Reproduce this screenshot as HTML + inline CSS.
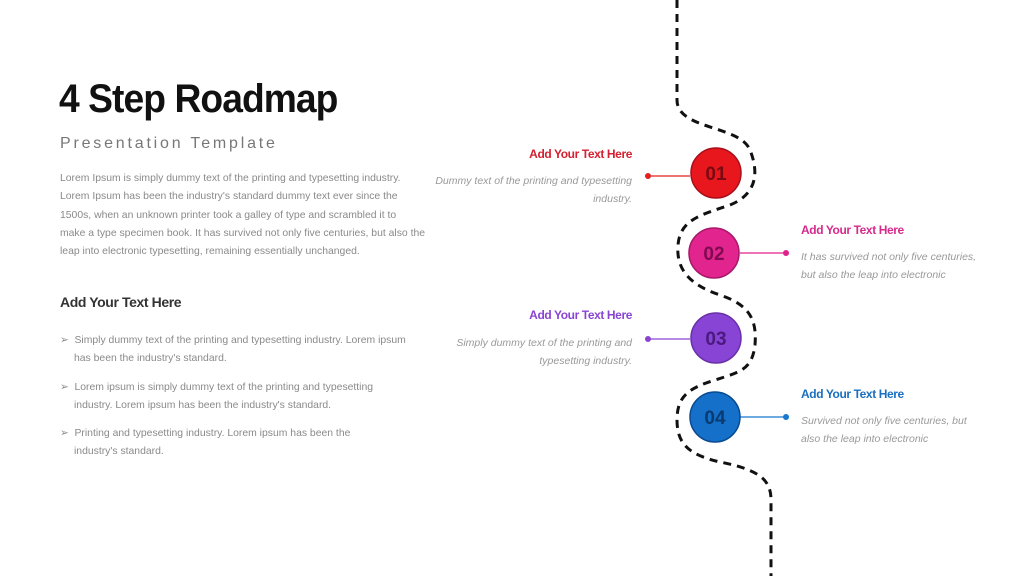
<!DOCTYPE html>
<html><head><meta charset="utf-8"><style>
*{margin:0;padding:0;box-sizing:border-box}
body{width:1024px;height:576px;background:#fff;position:relative;overflow:hidden;font-family:"Liberation Sans",sans-serif}
.a{position:absolute;white-space:nowrap}
.t{font-size:10.4px;color:#8a8a8a;line-height:18.3px}
.h{font-weight:bold;font-size:12px;letter-spacing:-0.4px}
.i{font-style:italic;font-size:10.5px;color:#999;line-height:18px}
.b{padding-left:14px;text-indent:-14px}
</style></head><body>
<div class="a" style="left:59px;top:77px;font-size:40px;font-weight:bold;letter-spacing:-1px;color:#111;transform:scaleX(0.93);transform-origin:left">4 Step Roadmap</div>
<div class="a" style="left:60px;top:135px;font-size:16px;letter-spacing:2.8px;color:#777">Presentation Template</div>
<div class="a t" style="left:60px;top:170px">Lorem Ipsum is simply dummy text of the printing and typesetting industry.<br>Lorem Ipsum has been the industry's standard dummy text ever since the<br>1500s, when an unknown printer took a galley of type and scrambled it to<br>make a type specimen book. It has survived not only five centuries, but also the<br>leap into electronic typesetting, remaining essentially unchanged.</div>
<div class="a" style="left:60px;top:294px;font-size:14px;font-weight:bold;color:#333;letter-spacing:-0.4px">Add Your Text Here</div>
<div class="a t b" style="left:60px;top:332px">➢&nbsp; Simply dummy text of the printing and typesetting industry. Lorem ipsum<br>has been the industry's standard.</div>
<div class="a t b" style="left:60px;top:379px">➢&nbsp; Lorem ipsum is simply dummy text of the printing and typesetting<br>industry. Lorem ipsum has been the industry's standard.</div>
<div class="a t b" style="left:60px;top:425px">➢&nbsp; Printing and typesetting industry. Lorem ipsum has been the<br>industry's standard.</div>

<svg class="a" style="left:0;top:0" width="1024" height="576">
<path d="M677,0 L677,100 C677,130 740,125 750,150 C760,175 755,195 730,205 C700,215 680,220 678,245 C676,270 690,285 720,295 C750,305 757,320 755,345 C752,370 740,372 715,380 C690,388 677,395 677,420 C677,445 690,455 720,462 C760,470 771,480 771,500 L771,576" fill="none" stroke="#111" stroke-width="3" stroke-dasharray="8,6"/>
<line x1="648" y1="176" x2="690" y2="176" stroke="#e02020" stroke-width="1.2"/><circle cx="648" cy="176" r="3" fill="#e02020"/>
<line x1="740" y1="253" x2="786" y2="253" stroke="#e0208c" stroke-width="1.2"/><circle cx="786" cy="253" r="3" fill="#e0208c"/>
<line x1="648" y1="339" x2="690" y2="339" stroke="#8a45d0" stroke-width="1.2"/><circle cx="648" cy="339" r="3" fill="#8a45d0"/>
<line x1="740" y1="417" x2="786" y2="417" stroke="#1878d0" stroke-width="1.2"/><circle cx="786" cy="417" r="3" fill="#1878d0"/>
<g font-family="Liberation Sans" font-weight="bold" font-size="19" text-anchor="middle">
<circle cx="716" cy="173" r="25" fill="#e8171e" stroke="#a8101a" stroke-width="1.5"/><text x="716" y="180" fill="#7a0a12">01</text>
<circle cx="714" cy="253" r="25" fill="#e2248e" stroke="#a8186a" stroke-width="1.5"/><text x="714" y="260" fill="#800a50">02</text>
<circle cx="716" cy="338" r="25" fill="#8844d4" stroke="#6a30a8" stroke-width="1.5"/><text x="716" y="345" fill="#4a1a80">03</text>
<circle cx="715" cy="417" r="25" fill="#1470c8" stroke="#0a4a90" stroke-width="1.5"/><text x="715" y="424" fill="#0a3a70">04</text>
</g></svg>

<div class="a h" style="right:392px;top:147px;color:#d42030">Add Your Text Here</div>
<div class="a i" style="right:392px;top:172px;text-align:right">Dummy text of the printing and typesetting<br>industry.</div>
<div class="a h" style="left:801px;top:223px;color:#d62a8c">Add Your Text Here</div>
<div class="a i" style="left:801px;top:248px">It has survived not only five centuries,<br>but also the leap into electronic</div>
<div class="a h" style="right:392px;top:308px;color:#8a45d0">Add Your Text Here</div>
<div class="a i" style="right:392px;top:334px;text-align:right">Simply dummy text of the printing and<br>typesetting industry.</div>
<div class="a h" style="left:801px;top:387px;color:#1a6fbf">Add Your Text Here</div>
<div class="a i" style="left:801px;top:412px">Survived not only five centuries, but<br>also the leap into electronic</div>
</body></html>
